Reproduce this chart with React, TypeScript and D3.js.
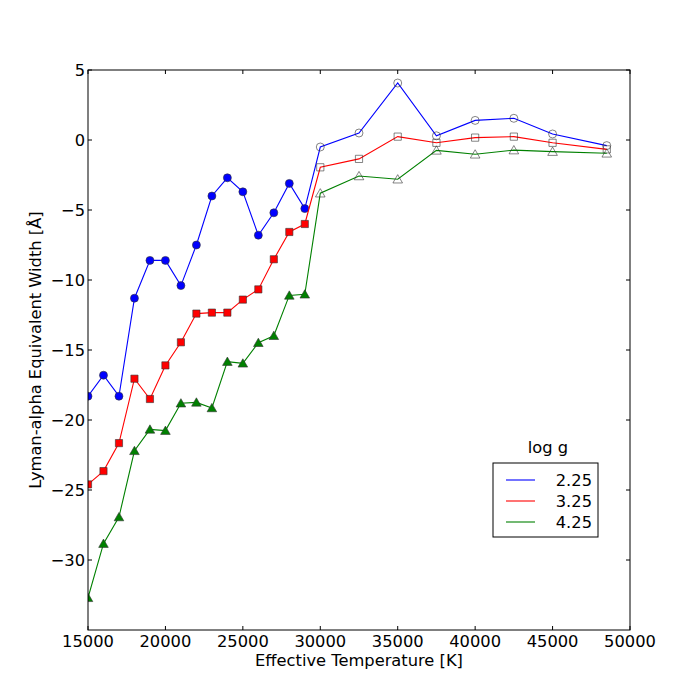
import React, { useEffect, useRef } from 'react';
import * as d3 from 'd3';

// effective temperatures [K]
const tempsCool = [15000, 16000, 17000, 18000, 19000, 20000, 21000, 22000, 23000, 24000, 25000, 26000, 27000, 28000, 29000];
const tempsHot = [30000, 32500, 35000, 37500, 40000, 42500, 45000, 48500];

// Lyman-alpha equivalent widths [Å]
const ew225Cool = [-18.3, -16.8, -18.3, -11.3, -8.6, -8.6, -10.4, -7.5, -4.0, -2.7, -3.7, -6.8, -5.2, -3.1, -4.9];
const ew225Hot = [-0.5, 0.5, 4.07, 0.3, 1.4, 1.55, 0.43, -0.4];
const ew325Cool = [-24.6, -23.65, -21.65, -17.05, -18.5, -16.1, -14.45, -12.4, -12.33, -12.33, -11.4, -10.67, -8.52, -6.57, -6.0];
const ew325Hot = [-1.95, -1.35, 0.24, -0.2, 0.17, 0.24, -0.2, -0.67];
const ew425Cool = [-32.7, -28.83, -26.93, -22.2, -20.67, -20.76, -18.8, -18.74, -19.14, -15.83, -15.95, -14.48, -13.98, -11.1, -11.02];
const ew425Hot = [-3.8, -2.57, -2.8, -0.74, -1.02, -0.72, -0.83, -0.95];

const legendLabels = ['2.25', '3.25', '4.25'];
const xTicks = [15000, 20000, 25000, 30000, 35000, 40000, 45000, 50000];
const yTicks = [-30, -25, -20, -15, -10, -5, 0, 5];

const seriesColors = ['#0000ff', '#ff0000', '#008000'];
const markerTypes = [d3.symbolCircle, d3.symbolSquare, d3.symbolTriangle];
const markerSizes = [50, 52, 40];

const W = 700;
const H = 700;
const margin = { top: 70, right: 70, bottom: 70, left: 88 };
const FONT = 'DejaVu Sans, sans-serif';
const FS = 16.3;

const App: React.FC = () => {
  const svgRef = useRef<SVGSVGElement>(null);

  useEffect(() => {
    const svg = d3.select(svgRef.current);
    svg.selectAll('*').remove();

    const innerW = W - margin.left - margin.right;
    const innerH = H - margin.top - margin.bottom;

    const x = d3.scaleLinear().domain([15000, 50000]).range([0, innerW]);
    const y = d3.scaleLinear().domain([-35, 5]).range([innerH, 0]);

    svg.append('rect').attr('width', W).attr('height', H).attr('fill', '#fff');

    svg.append('defs').append('clipPath').attr('id', 'plot-clip')
      .append('rect').attr('width', innerW).attr('height', innerH);

    const g = svg.append('g').attr('transform', `translate(${margin.left},${margin.top})`);

    const series = [
      { cool: ew225Cool, hot: ew225Hot },
      { cool: ew325Cool, hot: ew325Hot },
      { cool: ew425Cool, hot: ew425Hot },
    ];

    const plot = g.append('g').attr('clip-path', 'url(#plot-clip)');
    const line = d3.line<[number, number]>().x(d => x(d[0])).y(d => y(d[1]));

    series.forEach((s, i) => {
      const pts: [number, number][] = [
        ...tempsCool.map((t, j) => [t, s.cool[j]] as [number, number]),
        ...tempsHot.map((t, j) => [t, s.hot[j]] as [number, number]),
      ];
      plot.append('path')
        .attr('d', line(pts))
        .attr('fill', 'none')
        .attr('stroke', seriesColors[i])
        .attr('stroke-width', 1.1);

      const sym = d3.symbol().type(markerTypes[i]).size(markerSizes[i]);
      const dy = i === 2 ? 1 : 0;
      plot.selectAll(`.mk-cool-${i}`)
        .data(tempsCool.map((t, j) => [t, s.cool[j]]))
        .enter().append('path')
        .attr('d', sym())
        .attr('transform', d => `translate(${x(d[0])},${y(d[1]) + dy})`)
        .attr('fill', seriesColors[i])
        .attr('stroke', '#333')
        .attr('stroke-width', 0.6);
      plot.selectAll(`.mk-hot-${i}`)
        .data(tempsHot.map((t, j) => [t, s.hot[j]]))
        .enter().append('path')
        .attr('d', sym())
        .attr('transform', d => `translate(${x(d[0])},${y(d[1]) + dy})`)
        .attr('fill', 'none')
        .attr('stroke', '#333')
        .attr('stroke-width', 0.6);
    });

    // axes: ticks inside, on all four sides
    const tickLen = 4;
    const axisGroup = g.append('g');
    xTicks.forEach(t => {
      axisGroup.append('line').attr('x1', x(t)).attr('x2', x(t)).attr('y1', innerH).attr('y2', innerH - tickLen).attr('stroke', '#000');
      axisGroup.append('line').attr('x1', x(t)).attr('x2', x(t)).attr('y1', 0).attr('y2', tickLen).attr('stroke', '#000');
      axisGroup.append('text')
        .attr('x', x(t)).attr('y', innerH + 17)
        .attr('text-anchor', 'middle')
        .attr('font-family', FONT).attr('font-size', FS)
        .text(String(t));
    });
    yTicks.forEach(t => {
      axisGroup.append('line').attr('x1', 0).attr('x2', tickLen).attr('y1', y(t)).attr('y2', y(t)).attr('stroke', '#000');
      axisGroup.append('line').attr('x1', innerW).attr('x2', innerW - tickLen).attr('y1', y(t)).attr('y2', y(t)).attr('stroke', '#000');
      axisGroup.append('text')
        .attr('x', -3).attr('y', y(t)).attr('dy', '0.36em')
        .attr('text-anchor', 'end')
        .attr('font-family', FONT).attr('font-size', FS)
        .text(t < 0 ? `\u2212${Math.abs(t)}` : String(t));
    });

    g.append('rect')
      .attr('width', innerW).attr('height', innerH)
      .attr('fill', 'none').attr('stroke', '#000').attr('stroke-width', 1);

    g.append('text')
      .attr('x', innerW / 2).attr('y', innerH + 36)
      .attr('text-anchor', 'middle')
      .attr('font-family', FONT).attr('font-size', FS)
      .text('Effective Temperature [K]');

    g.append('text')
      .attr('transform', 'rotate(-90)')
      .attr('x', -innerH / 2).attr('y', -47)
      .attr('text-anchor', 'middle')
      .attr('font-family', FONT).attr('font-size', FS)
      .text('Lyman-alpha Equivalent Width [\u00c5]');

    // legend
    const lg = svg.append('g').attr('transform', 'translate(493,463)');
    lg.append('text')
      .attr('x', 55).attr('y', -10)
      .attr('text-anchor', 'middle')
      .attr('font-family', FONT).attr('font-size', FS)
      .text('log g');
    lg.append('rect')
      .attr('width', 105).attr('height', 74)
      .attr('fill', '#fff').attr('stroke', '#000').attr('stroke-width', 1);
    legendLabels.forEach((lab, i) => {
      const ry = 17 + i * 21;
      lg.append('line')
        .attr('x1', 13).attr('x2', 42).attr('y1', ry).attr('y2', ry)
        .attr('stroke', seriesColors[i]).attr('stroke-width', 1.1);
      lg.append('text')
        .attr('x', 99).attr('y', ry).attr('dy', '0.36em')
        .attr('text-anchor', 'end')
        .attr('font-family', FONT).attr('font-size', FS)
        .text(lab);
    });
  }, []);

  return (
    <div style={{ width: W, height: H }}>
      <svg ref={svgRef} width={W} height={H} style={{ display: 'block', position: 'absolute', left: 0, top: 0 }} />
    </div>
  );
};

export default App;
